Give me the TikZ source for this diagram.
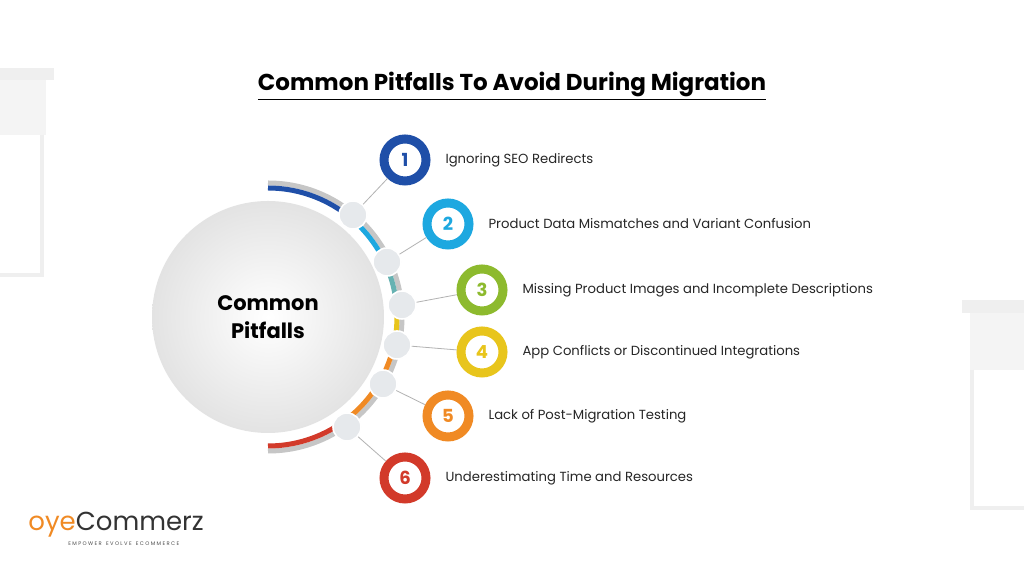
\documentclass[tikz,border=0pt]{standalone}
\usepackage{fontspec}
\setmainfont{Poppins}
\usetikzlibrary{positioning}
\definecolor{cBlue}{HTML}{1F4FA8}
\definecolor{cSky}{HTML}{1DA8E0}
\definecolor{cGreen}{HTML}{8DBA2E}
\definecolor{cYellow}{HTML}{E8C51C}
\definecolor{cOrange}{HTML}{F08A24}
\definecolor{cRed}{HTML}{D23A2A}
\definecolor{dotGray}{HTML}{E6E9EC}
\definecolor{blindGray}{HTML}{EFEFEF}
\tikzset{
  dot/.style={circle, fill=dotGray, draw=white, line width=0.8pt, minimum size=14pt, inner sep=0pt},
  ring/.style={circle, draw=#1, line width=4.5pt, fill=white, minimum size=21pt, inner sep=0pt, text=#1, font=\fontsize{9}{9}\selectfont\bfseries},
  label/.style={anchor=west, font=\fontsize{6.6}{8}\selectfont, text=black!85},
  link/.style={draw=gray!60, line width=0.4pt}
}
\begin{document}
\begin{tikzpicture}[x=0.5pt, y=-0.5pt]
  \useasboundingbox (0,0) rectangle (1024,576);
  \fill[white] (0,0) rectangle (1024,576);
  % window blinds in the background
  \fill[blindGray] (0,68) rectangle (54,80);
  \fill[blindGray!70] (0,80) rectangle (46,135);
  \draw[blindGray, line width=2pt] (42,135) -- (42,275) -- (0,275);
  \fill[blindGray] (962,300) rectangle (1024,313);
  \fill[blindGray!70] (970,313) rectangle (1024,370);
  \draw[blindGray, line width=2pt] (972,370) -- (972,508) -- (1024,508);
  % title
  \node[font=\fontsize{11.5}{14}\selectfont\bfseries] (title) at (512,86) {\underline{Common Pitfalls To Avoid During Migration}};
  % central circle
  \shade[inner color=white, outer color=gray!22] (268,317) circle (116);
  \node[font=\fontsize{10.5}{14}\selectfont\bfseries, align=center] (hub) at (268,317) {Common\\Pitfalls};
  % arc bands
  \draw[gray!45, line width=2.5pt] (268,317) ++(-90:134) arc[start angle=-90, end angle=90, radius=134];
  \foreach \c/\a/\b in {cBlue/-90/-55, cSky/-55/-25, teal!60/-25/-8, cYellow/-8/12, cOrange/12/55, cRed/55/90}
    \draw[\c, line width=2.5pt] (268,317) ++(\a:129) arc[start angle=\a, end angle=\b, radius=129];
  % steps
  \foreach \i/\dx/\dy/\nx/\ny/\col/\txt in {
      1/353/215/405/160/cBlue/Ignoring SEO Redirects,
      2/387/262/448/224/cSky/Product Data Mismatches and Variant Confusion,
      3/402/305/482/290/cGreen/Missing Product Images and Incomplete Descriptions,
      4/397/345/482/352/cYellow/App Conflicts or Discontinued Integrations,
      5/383/384/448/416/cOrange/Lack of Post-Migration Testing,
      6/347/427/405/478/cRed/Underestimating Time and Resources} {
    \node[ring=\col] (num\i) at (\nx,\ny) {\i};
    \node[dot] (dot\i) at (\dx,\dy) {};
    \draw[link] (dot\i) -- (num\i);
    \node[label, right=4pt of num\i] (txt\i) {\txt};
  }
  % logo
  \node[anchor=west, inner sep=0pt, font=\fontsize{13}{13}\selectfont] (logo) at (28,525) {\textcolor{cOrange}{oye}\textcolor{black!80}{Commerz}};
  \node[anchor=north west, inner sep=0pt, font=\fontsize{2.6}{3}\selectfont, text=black!70] (tag) at (68,541) {E M P O W E R \ \ E V O L V E \ \ E C O M M E R C E};
\end{tikzpicture}
\end{document}
